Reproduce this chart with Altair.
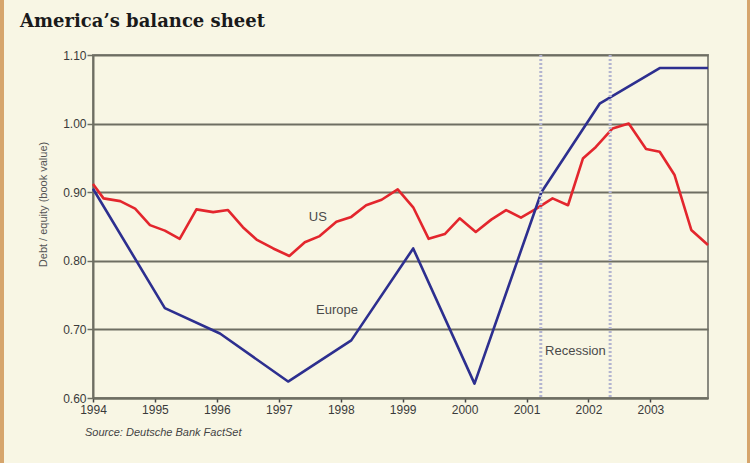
import altair as alt
import pandas as pd

# ---- data ----
us_years = [1994.0, 1994.17, 1994.44, 1994.68, 1994.92, 1995.16, 1995.40, 1995.67, 1995.94,
            1996.18, 1996.42, 1996.64, 1996.91, 1997.17, 1997.42, 1997.66, 1997.93, 1998.17,
            1998.41, 1998.66, 1998.92, 1999.17, 1999.42, 1999.68, 1999.92, 2000.18, 2000.43,
            2000.67, 2000.91, 2001.16, 2001.42, 2001.67, 2001.91, 2002.12, 2002.39, 2002.65,
            2002.93, 2003.15, 2003.39, 2003.66, 2003.93]
us_values = [0.912, 0.891, 0.887, 0.876, 0.852, 0.844, 0.832, 0.875, 0.871,
             0.874, 0.849, 0.831, 0.818, 0.807, 0.827, 0.836, 0.857, 0.864,
             0.881, 0.889, 0.904, 0.878, 0.832, 0.839, 0.862, 0.842, 0.860,
             0.874, 0.863, 0.876, 0.891, 0.881, 0.949, 0.966, 0.993, 1.000,
             0.963, 0.959, 0.925, 0.845, 0.823]

eu_years = [1994.0, 1995.16, 1996.05, 1997.15, 1998.17, 1999.17, 2000.16, 2001.24,
            2002.18, 2002.31, 2003.15, 2003.93]
eu_values = [0.905, 0.731, 0.694, 0.624, 0.684, 0.818, 0.621, 0.900,
             1.029, 1.036, 1.081, 1.081]

recession_bounds = [2001.23, 2002.35]
year_ticks = [1994, 1995, 1996, 1997, 1998, 1999, 2000, 2001, 2002, 2003]
value_ticks = [0.60, 0.70, 0.80, 0.90, 1.00, 1.10]

series_labels = ["US", "Europe", "Recession"]
label_years = [1997.63, 1997.94, 2001.79]
label_values = [0.8635, 0.728, 0.669]

title_text = "America\u2019s balance sheet"
source_text = "Source: Deutsche Bank FactSet"
y_title = "Debt / equity (book value)"

RED = "#e3262d"
BLUE = "#2d2f8f"
BG = "#f8f6e4"
GRID = "#6e6e62"
TAN = "#d6a56c"

lines_df = pd.concat([
    pd.DataFrame({"year": us_years, "value": us_values, "series": "US"}),
    pd.DataFrame({"year": eu_years, "value": eu_values, "series": "Europe"}),
])

x_scale = alt.Scale(domain=[1994, 2003.93], nice=False, zero=False)
y_scale = alt.Scale(domain=[0.6, 1.1], nice=False, zero=False)

x_axis = alt.Axis(values=year_ticks, format="d", title=None, grid=False,
                  domainColor=GRID, domainWidth=2, tickColor="#444", tickSize=4,
                  tickWidth=1.5, labelPadding=2, labelFont="Liberation Sans",
                  labelFontSize=12, labelColor="#3a3a3a", labelFlush=False)
y_axis = alt.Axis(values=value_ticks, format=".2f", title=y_title,
                  grid=True, gridColor=GRID, gridWidth=2, gridOpacity=1,
                  domainColor=GRID, domainWidth=2, tickColor=GRID, tickSize=6,
                  tickWidth=1.5, labelPadding=1, labelFont="Liberation Sans",
                  labelFontSize=12, labelColor="#3a3a3a",
                  titleFont="Liberation Sans", titleFontSize=11,
                  titleFontWeight="normal", titleColor="#555555",
                  titleX=-50, titleY=149, titleAngle=-90, titleBaseline="middle",
                  titleAlign="center")

lines = alt.Chart(lines_df).mark_line(strokeWidth=2.6, strokeJoin="round").encode(
    x=alt.X("year:Q", scale=x_scale, axis=x_axis),
    y=alt.Y("value:Q", scale=y_scale, axis=y_axis),
    color=alt.Color("series:N", scale=alt.Scale(domain=["US", "Europe"], range=[RED, BLUE]),
                    legend=None),
    detail="series:N",
)

rec = alt.Chart(pd.DataFrame({"year": recession_bounds})).mark_rule(
    color="#b3b5d0", strokeWidth=3, strokeDash=[2, 2]
).encode(x=alt.X("year:Q", scale=x_scale, axis=x_axis))

labels = alt.Chart(pd.DataFrame({"year": label_years, "value": label_values,
                                 "t": series_labels})).mark_text(
    font="Liberation Sans", fontSize=13, color="#4a4a4a", baseline="middle", align="center"
).encode(x=alt.X("year:Q", scale=x_scale, axis=x_axis),
         y=alt.Y("value:Q", scale=y_scale, axis=y_axis), text="t:N")

title = alt.Chart(pd.DataFrame({"t": [title_text]})).mark_text(
    font="DejaVu Serif", fontWeight="bold", fontSize=18, color="#1a1a1a",
    align="left", baseline="alphabetic"
).encode(x=alt.value(-73), y=alt.value(-28), text="t:N")

source = alt.Chart(pd.DataFrame({"t": [source_text]})).mark_text(
    font="Liberation Sans", fontStyle="italic", fontSize=11, color="#444444",
    align="left", baseline="middle"
).encode(x=alt.value(-8), y=alt.value(378), text="t:N")

stripe_l = alt.Chart(pd.DataFrame({"k": [0]})).mark_rect(color=TAN).encode(
    x=alt.value(-93), x2=alt.value(-89), y=alt.value(-55), y2=alt.value(408))
stripe_r = alt.Chart(pd.DataFrame({"k": [0]})).mark_rect(color=TAN).encode(
    x=alt.value(654), x2=alt.value(657), y=alt.value(-55), y2=alt.value(408))

chart = alt.layer(stripe_l, stripe_r, lines, rec, labels, title, source).properties(
    width=615, height=343,
    autosize=alt.AutoSizeParams(type="none"),
    padding={"left": 93, "top": 55, "right": 42, "bottom": 65},
    background=BG,
).configure_view(stroke="#8a8a80", strokeWidth=2)

chart.save("out.html", embed_options={"renderer": "svg", "actions": False})
